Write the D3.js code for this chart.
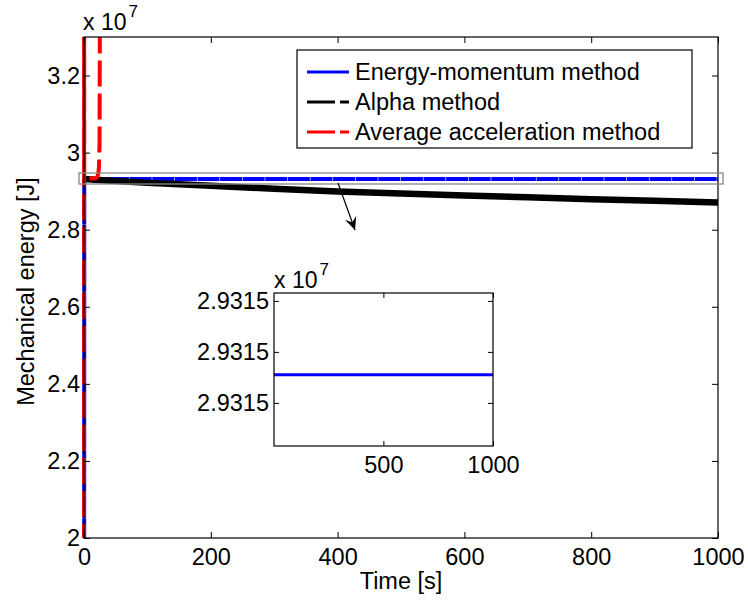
<!DOCTYPE html>
<html><head><meta charset="utf-8">
<script src="https://cdn.jsdelivr.net/npm/d3@7"></script>
<style>body{margin:0;background:#fff}text{font-family:"Liberation Sans",Arial,sans-serif;fill:#000}</style>
</head><body>
<script>
// ---- data (energy in units of 1e7 J) ----
const timeTicks = [0, 200, 400, 600, 800, 1000];
const energyTicks = [2, 2.2, 2.4, 2.6, 2.8, 3, 3.2];
const insetTimeTicks = [500, 1000];
const insetEnergyTicks = [2.93148, 2.9315, 2.93152];
const seriesNames = ["Energy-momentum method", "Alpha method", "Average acceleration method"];
const emTime   = [0, 0.4, 1000];
const emEnergy = [0, 2.931491, 2.931491];
const alphaTime   = [0, 30, 100, 200, 300, 400, 500, 600, 700, 800, 900, 1000];
const alphaEnergy = [2.9315, 2.928, 2.922, 2.914, 2.906, 2.899, 2.894, 2.889, 2.884, 2.879, 2.875, 2.8705];
const avgTime   = [0, 0.2, 0.4, 5, 15, 19, 21, 22.5, 23.5, 24.5, 25.5];
const avgEnergy = [0, 3.6, 2.932, 2.9325, 2.933, 2.934, 2.937, 2.945, 2.96, 3.02, 3.6];

const W = 748, H = 601;
const svg = d3.select("body").append("svg").attr("width", W).attr("height", H);
const FS = 23.5;

// ---- main axes ----
const m = {l: 84, r: 718, t: 37, b: 538};
const x = d3.scaleLinear().domain([0, 1000]).range([m.l, m.r]);
const y = d3.scaleLinear().domain([2, 3.3]).range([m.b, m.t]);

svg.append("clipPath").attr("id", "clipMain").append("rect")
  .attr("x", m.l - 3).attr("y", m.t).attr("width", m.r - m.l + 3).attr("height", m.b - m.t);

const zip = (a, b) => a.map((v, i) => [v, b[i]]);
const line = d3.line().x(d => x(d[0])).y(d => y(d[1]));
const gPlot = svg.append("g").attr("clip-path", "url(#clipMain)");
gPlot.append("path").attr("d", line(zip(emTime, emEnergy)))
  .attr("fill", "none").attr("stroke", "#0000ff").attr("stroke-width", 4).attr("stroke-dasharray", "22,0.6");
gPlot.append("path").attr("d", line(zip(alphaTime, alphaEnergy)))
  .attr("fill", "none").attr("stroke", "#000").attr("stroke-width", 6.5);
gPlot.append("path").attr("d", line(zip(avgTime, avgEnergy)))
  .attr("fill", "none").attr("stroke", "#ff0000").attr("stroke-width", 4).attr("stroke-dasharray", "26,7");

// frame
svg.append("rect").attr("x", m.l).attr("y", m.t).attr("width", m.r - m.l).attr("height", m.b - m.t)
  .attr("fill", "none").attr("stroke", "#000").attr("stroke-width", 1.2);

const fmt = d => d3.format("")(+d.toFixed(4));
const axB = svg.append("g").attr("transform", `translate(0,${m.b})`)
  .call(d3.axisBottom(x).tickValues(timeTicks).tickSize(-6).tickPadding(10).tickFormat(fmt));
const axT = svg.append("g").attr("transform", `translate(0,${m.t})`)
  .call(d3.axisTop(x).tickValues(timeTicks).tickSize(-6).tickFormat(""));
const axL = svg.append("g").attr("transform", `translate(${m.l},0)`)
  .call(d3.axisLeft(y).tickValues(energyTicks).tickSize(-6).tickPadding(4).tickFormat(fmt));
const axR = svg.append("g").attr("transform", `translate(${m.r},0)`)
  .call(d3.axisRight(y).tickValues(energyTicks).tickSize(-6).tickFormat(""));
[axB, axT, axL, axR].forEach(a => {
  a.select(".domain").remove();
  a.selectAll("line").attr("stroke", "#000");
  a.selectAll("text").style("font-size", FS + "px").style("font-family", '"Liberation Sans",Arial,sans-serif').attr("fill", "#000");
});

// exponent labels
function expo(xp, yp) {
  const t = svg.append("text").attr("x", xp).attr("y", yp).style("font-size", "23px");
  t.append("tspan").text("x 10");
  t.append("tspan").attr("dy", -13).attr("dx", 2).style("font-size", "17px").text("7");
}
expo(m.l - 1, 30);

// axis titles
svg.append("text").attr("x", (m.l + m.r) / 2).attr("y", 589).attr("text-anchor", "middle")
  .style("font-size", FS + "px").text("Time [s]");
svg.append("text").attr("transform", `translate(34,${(m.t + m.b) / 2 + 4}) rotate(-90)`)
  .attr("text-anchor", "middle").style("font-size", FS + "px").text("Mechanical energy [J]");

// zoom rectangle and arrow
svg.append("rect").attr("x", 79).attr("y", 173).attr("width", 644).attr("height", 11)
  .attr("fill", "none").attr("stroke", "#888").attr("stroke-width", 1.3);
const ax0 = 338, ay0 = 183, ax1 = 355, ay1 = 230;
svg.append("line").attr("x1", ax0).attr("y1", ay0).attr("x2", ax1).attr("y2", ay1)
  .attr("stroke", "#000").attr("stroke-width", 1.2);
{
  const ang = Math.atan2(ay1 - ay0, ax1 - ax0);
  const L = 13, Wd = 6, back = 5;
  const ux = Math.cos(ang), uy = Math.sin(ang), px = -uy, py = ux;
  const p = [
    [ax1, ay1],
    [ax1 - L * ux + Wd * px, ay1 - L * uy + Wd * py],
    [ax1 - (L - back) * ux, ay1 - (L - back) * uy],
    [ax1 - L * ux - Wd * px, ay1 - L * uy - Wd * py]
  ];
  svg.append("path").attr("d", "M" + p.map(q => q.join(",")).join("L") + "Z").attr("fill", "#000");
}

// ---- legend ----
const lg = svg.append("g");
lg.append("rect").attr("x", 297).attr("y", 50).attr("width", 395).attr("height", 98)
  .attr("fill", "#fff").attr("stroke", "#000").attr("stroke-width", 1.2);
const legColors = ["#0000ff", "#000", "#ff0000"];
const legDash = [null, "28,5,9", "28,5,9"];
seriesNames.forEach((nm, i) => {
  const cy = 72 + i * 30;
  lg.append("line").attr("x1", 307).attr("x2", 349).attr("y1", cy).attr("y2", cy)
    .attr("stroke", legColors[i]).attr("stroke-width", 3).attr("stroke-dasharray", legDash[i]);
  lg.append("text").attr("x", 355).attr("y", cy).attr("dy", "0.36em").style("font-size", FS + "px").text(nm);
});

// ---- inset ----
const n = {l: 274, r: 493, t: 293, b: 446};
const xi = d3.scaleLinear().domain([1, 1000]).range([n.l, n.r]);
const yi = d3.scaleLinear().domain([2.9314631, 2.9315231]).range([n.b, n.t]);
svg.append("rect").attr("x", n.l).attr("y", n.t).attr("width", n.r - n.l).attr("height", n.b - n.t)
  .attr("fill", "#fff");
svg.append("clipPath").attr("id", "clipIn").append("rect")
  .attr("x", n.l).attr("y", n.t).attr("width", n.r - n.l).attr("height", n.b - n.t);
const lineI = d3.line().x(d => xi(d[0])).y(d => yi(d[1]));
svg.append("g").attr("clip-path", "url(#clipIn)").append("path")
  .attr("d", lineI(zip(emTime, emEnergy).filter(d => d[0] >= 1 || d[1] > 2.9)))
  .attr("fill", "none").attr("stroke", "#0000ff").attr("stroke-width", 3);
svg.append("rect").attr("x", n.l).attr("y", n.t).attr("width", n.r - n.l).attr("height", n.b - n.t)
  .attr("fill", "none").attr("stroke", "#000").attr("stroke-width", 1.2);
const ifmt = d => d3.format(".4f")(d);
const iB = svg.append("g").attr("transform", `translate(0,${n.b})`)
  .call(d3.axisBottom(xi).tickValues(insetTimeTicks).tickSize(-5).tickPadding(10).tickFormat(d3.format("")));
const iT = svg.append("g").attr("transform", `translate(0,${n.t})`)
  .call(d3.axisTop(xi).tickValues(insetTimeTicks).tickSize(-5).tickFormat(""));
const iL = svg.append("g").attr("transform", `translate(${n.l},0)`)
  .call(d3.axisLeft(yi).tickValues(insetEnergyTicks).tickSize(-5).tickPadding(5).tickFormat(ifmt));
const iR = svg.append("g").attr("transform", `translate(${n.r},0)`)
  .call(d3.axisRight(yi).tickValues(insetEnergyTicks).tickSize(-5).tickFormat(""));
[iB, iT, iL, iR].forEach(a => {
  a.select(".domain").remove();
  a.selectAll("line").attr("stroke", "#000");
  a.selectAll("text").style("font-size", FS + "px").style("font-family", '"Liberation Sans",Arial,sans-serif').attr("fill", "#000");
});
expo(n.l, 288);
</script>
</body></html>
